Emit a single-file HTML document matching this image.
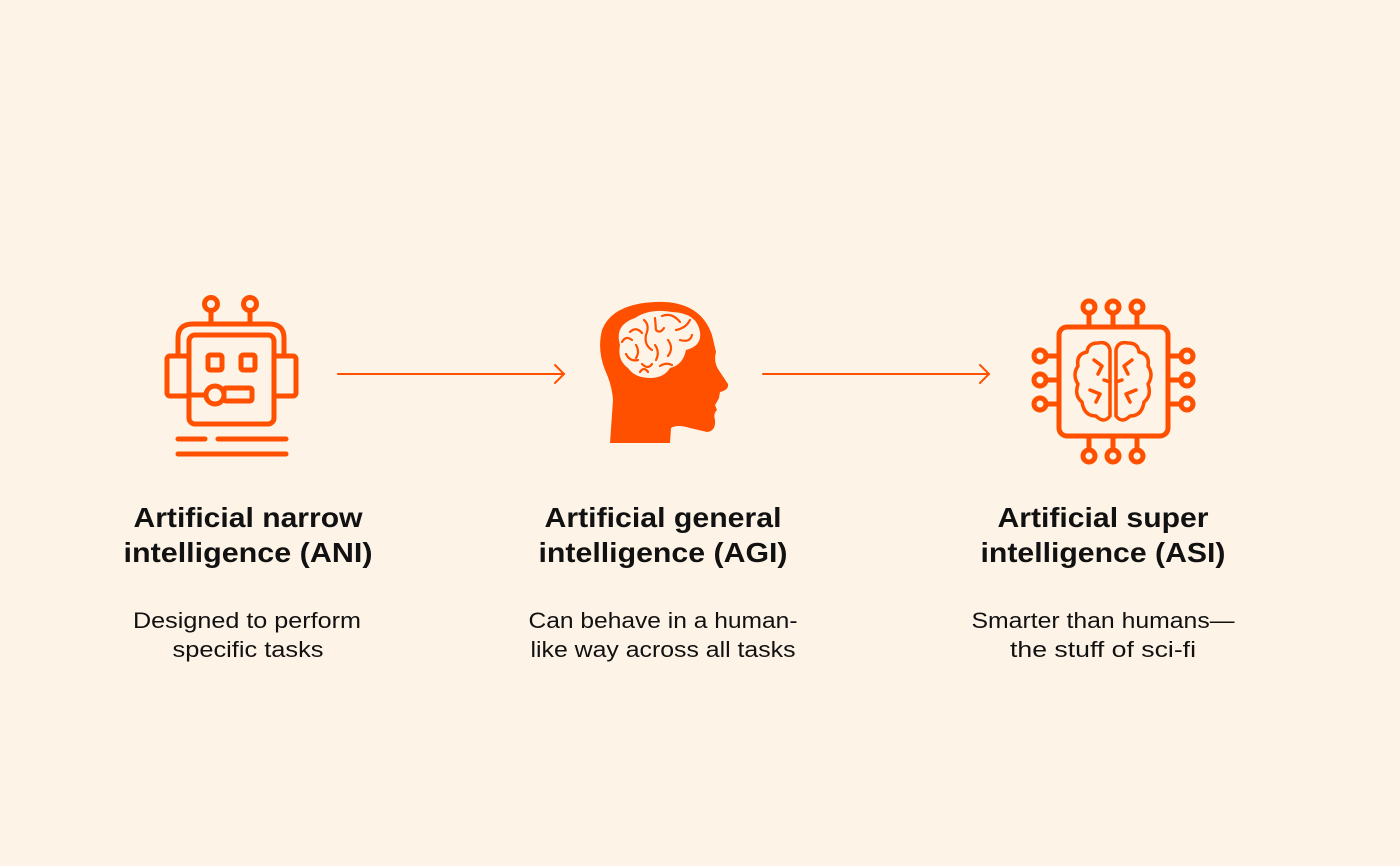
<!DOCTYPE html>
<html><head><meta charset="utf-8"><style>
html,body{margin:0;padding:0;background:#fef3e7;}
svg{display:block}
</style></head><body>
<svg width="1400" height="866" viewBox="0 0 1400 866" xmlns="http://www.w3.org/2000/svg">
<rect width="1400" height="866" fill="#fef3e7"/>
<g fill="none" stroke="#ff5000" stroke-width="5" stroke-linecap="round" stroke-linejoin="round">
 <!-- robot -->
 <circle cx="211" cy="304" r="6.5"/><circle cx="250" cy="304" r="6.5"/>
 <line x1="211" y1="311" x2="211" y2="323"/><line x1="250" y1="311" x2="250" y2="323"/>
 <path d="M178,355 L178,338 Q178,324 193,324 L269,324 Q284,324 284,338 L284,355"/>
 <rect x="189" y="335" width="85" height="89" rx="6"/>
 <rect x="167" y="356" width="22" height="40" rx="3"/>
 <rect x="274" y="356" width="22" height="40" rx="3"/>
 <rect x="208" y="355" width="14" height="15" rx="2"/>
 <rect x="241" y="355" width="14" height="15" rx="2"/>
 <circle cx="215" cy="395" r="9"/>
 <rect x="224" y="388" width="28" height="13" rx="2"/>
 <line x1="192" y1="395" x2="206" y2="395"/>
 <line x1="178" y1="439" x2="205" y2="439"/><line x1="218" y1="439" x2="286" y2="439"/>
 <line x1="178" y1="454" x2="286" y2="454"/>
</g>
<!-- arrows -->
<g fill="none" stroke="#ff5000" stroke-width="2" stroke-linecap="round">
 <line x1="338" y1="374" x2="564" y2="374"/><path d="M555,365 L564,374 L555,383"/>
 <line x1="763" y1="374" x2="989" y2="374"/><path d="M980,365 L989,374 L980,383"/>
</g>
<!-- head -->
<path fill="#ff5000" d="M610,443 L613,400 Q612,385 605,370 Q597,350 602,330 Q612,304 655,302 Q700,300 712,335 L716,352 Q713,363 720,372 L728,384 Q729,390 720,392 L719,398 Q717,402 715,405 L717,410 Q713,414 715,420 Q716,431 707,432 L690,428 Q677,424 671,428 L670,443 Z"/>
<path fill="#fef3e7" d="M620,345 Q614,325 635,318 Q650,308 672,312 Q697,313 700,332 Q702,346 686,350 Q683,365 670,368 Q664,378 650,378 Q635,378 628,368 Q617,360 620,345 Z"/>
<g fill="none" stroke="#ff5000" stroke-width="2.2" stroke-linecap="round">
 <path d="M622,342 Q626,335 632,340"/><path d="M630,332 Q636,326 642,333"/>
 <path d="M636,345 Q640,352 636,358"/><path d="M644,320 Q650,325 646,335 Q644,345 652,350"/>
 <path d="M655,318 L656,330 Q660,334 664,328"/><path d="M662,316 Q672,312 680,322"/>
 <path d="M676,330 Q686,328 690,320"/><path d="M668,340 Q674,348 668,356"/>
 <path d="M655,345 Q660,352 656,360"/><path d="M642,364 Q648,370 652,364"/>
 <path d="M626,354 Q630,362 638,360"/><path d="M680,340 Q690,343 692,335"/>
 <path d="M660,366 Q666,362 672,365"/><path d="M648,372 Q644,366 640,372"/>
</g>
<!-- chip -->
<g fill="none" stroke="#ff5000" stroke-width="5" stroke-linecap="round" stroke-linejoin="round">
 <rect x="1059" y="327" width="109" height="109" rx="8"/>
 <circle cx="1089" cy="307" r="6"/><circle cx="1113" cy="307" r="6"/><circle cx="1137" cy="307" r="6"/>
 <line x1="1089" y1="313" x2="1089" y2="327"/><line x1="1113" y1="313" x2="1113" y2="327"/><line x1="1137" y1="313" x2="1137" y2="327"/>
 <circle cx="1089" cy="456" r="6"/><circle cx="1113" cy="456" r="6"/><circle cx="1137" cy="456" r="6"/>
 <line x1="1089" y1="436" x2="1089" y2="450"/><line x1="1113" y1="436" x2="1113" y2="450"/><line x1="1137" y1="436" x2="1137" y2="450"/>
 <circle cx="1040" cy="356" r="6"/><circle cx="1040" cy="380" r="6"/><circle cx="1040" cy="404" r="6"/>
 <line x1="1046" y1="356" x2="1059" y2="356"/><line x1="1046" y1="380" x2="1059" y2="380"/><line x1="1046" y1="404" x2="1059" y2="404"/>
 <circle cx="1187" cy="356" r="6"/><circle cx="1187" cy="380" r="6"/><circle cx="1187" cy="404" r="6"/>
 <line x1="1168" y1="356" x2="1181" y2="356"/><line x1="1168" y1="380" x2="1181" y2="380"/><line x1="1168" y1="404" x2="1181" y2="404"/>
</g>
<g fill="none" stroke="#ff5000" stroke-width="3.5" stroke-linecap="round" stroke-linejoin="round">
 <path d="M1110,350 Q1108,341 1098,343 Q1088,343 1087,352 Q1076,354 1078,366 Q1072,375 1078,384 Q1074,396 1082,402 Q1084,416 1096,416 Q1104,424 1110,416 Z"/>
 <path d="M1116,350 Q1118,341 1128,343 Q1138,343 1139,352 Q1150,354 1148,366 Q1154,375 1148,384 Q1152,396 1144,402 Q1142,416 1130,416 Q1122,424 1116,416 Z"/>
 <path d="M1094,360 L1102,366 L1098,374"/><path d="M1090,390 L1100,394 L1096,402"/>
 <path d="M1132,360 L1124,366 L1128,374"/><path d="M1136,390 L1126,394 L1130,402"/>
 <path d="M1104,380 L1110,382"/><path d="M1122,380 L1116,382"/>
</g>
<!-- text -->
<g font-family="Liberation Sans, sans-serif" text-anchor="middle" fill="#111">
 <g font-size="28" font-weight="bold" lengthAdjust="spacingAndGlyphs">
  <text x="248" y="527" textLength="229" lengthAdjust="spacingAndGlyphs">Artificial narrow</text>
  <text x="248" y="562" textLength="249" lengthAdjust="spacingAndGlyphs">intelligence (ANI)</text>
  <text x="663" y="527" textLength="237" lengthAdjust="spacingAndGlyphs">Artificial general</text>
  <text x="663" y="562" textLength="249" lengthAdjust="spacingAndGlyphs">intelligence (AGI)</text>
  <text x="1103" y="527" textLength="211" lengthAdjust="spacingAndGlyphs">Artificial super</text>
  <text x="1103" y="562" textLength="245" lengthAdjust="spacingAndGlyphs">intelligence (ASI)</text>
 </g>
 <g font-size="22">
  <text x="247" y="628" textLength="228" lengthAdjust="spacingAndGlyphs">Designed to perform</text>
  <text x="248" y="657" textLength="151" lengthAdjust="spacingAndGlyphs">specific tasks</text>
  <text x="663" y="628" textLength="269" lengthAdjust="spacingAndGlyphs">Can behave in a human-</text>
  <text x="663" y="657" textLength="265" lengthAdjust="spacingAndGlyphs">like way across all tasks</text>
  <text x="1103" y="628" textLength="263" lengthAdjust="spacingAndGlyphs">Smarter than humans—</text>
  <text x="1103" y="657" textLength="186" lengthAdjust="spacingAndGlyphs">the stuff of sci-fi</text>
 </g>
</g>
</svg>
</body></html>
